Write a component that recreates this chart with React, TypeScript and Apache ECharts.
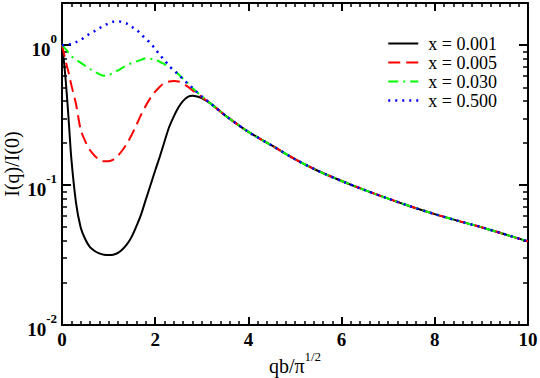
import React, { useEffect, useRef } from "react";
import * as echarts from "echarts";

// q b / pi^(1/2) sample points where the four curves differ
const qHead = [
  0, 0.05, 0.1, 0.15, 0.2, 0.3, 0.4, 0.5, 0.6, 0.7, 0.8, 0.9, 1.0, 1.1, 1.2, 1.3,
  1.4, 1.5, 1.6, 1.7, 1.8, 1.9, 2.0, 2.1, 2.2, 2.3, 2.4, 2.5, 2.6, 2.7, 2.8, 2.9, 3.0,
];
// common tail (all four curves coincide)
const qTail = [3.2, 3.5, 4.0, 4.5, 5.0, 5.5, 6.0, 6.5, 7.0, 7.5, 8.0, 8.5, 9.0, 9.5, 10];
const tailValues = [
  0.38, 0.315, 0.24, 0.192, 0.153, 0.126, 0.107, 0.092, 0.08, 0.07, 0.062, 0.0555, 0.05,
  0.0445, 0.0396,
];

const x0001 = [
  1.0, 0.72, 0.46, 0.27, 0.155, 0.075, 0.05, 0.041, 0.036, 0.0338, 0.0325, 0.0318, 0.0316,
  0.0318, 0.0328, 0.0348, 0.038, 0.043, 0.051, 0.062, 0.079, 0.1, 0.127, 0.16, 0.205, 0.26,
  0.31, 0.36, 0.4, 0.427, 0.435, 0.43, 0.418,
];
const x0005 = [
  1.0, 0.85, 0.72, 0.62, 0.52, 0.38, 0.25, 0.205, 0.178, 0.162, 0.152, 0.148, 0.148, 0.152,
  0.162, 0.178, 0.2, 0.23, 0.27, 0.32, 0.37, 0.42, 0.465, 0.505, 0.535, 0.55, 0.555, 0.55,
  0.53, 0.505, 0.475, 0.45, 0.425,
];
const x0030 = [
  1.0, 0.96, 0.92, 0.875, 0.835, 0.785, 0.75, 0.71, 0.675, 0.645, 0.62, 0.603, 0.61, 0.635,
  0.66, 0.69, 0.72, 0.745, 0.765, 0.785, 0.805, 0.8, 0.785, 0.76, 0.73, 0.7, 0.665, 0.62,
  0.575, 0.535, 0.495, 0.46, 0.43,
];
const x0500 = [
  1.0, 1.0, 1.005, 1.01, 1.02, 1.05, 1.09, 1.15, 1.21, 1.26, 1.32, 1.38, 1.43, 1.47, 1.48,
  1.46, 1.42, 1.35, 1.29, 1.19, 1.11, 1.03, 0.94, 0.85, 0.78, 0.71, 0.66, 0.615, 0.57, 0.53,
  0.495, 0.46, 0.43,
];

const seriesNames = ["x = 0.001", "x = 0.005", "x = 0.030", "x = 0.500"];
const xTicks = [0, 2, 4, 6, 8, 10];
const yDecades = [-2, -1, 0];

const FONT = "'Liberation Serif', 'Times New Roman', serif";

function build(head: number[]) {
  return [
    ...qHead.map((q, i) => [q, head[i]]),
    ...qTail.map((q, i) => [q, tailValues[i]]),
  ];
}

export default function App() {
  const ref = useRef<HTMLDivElement>(null);
  useEffect(() => {
    if (!ref.current) return;
    const chart = echarts.init(ref.current, null, { renderer: "svg" });
    const yMin = 0.01;
    const yMax = 2;
    const logMax = Math.log10(yMax);
    const minorVals: number[] = [];
    yDecades.forEach((d) => {
      for (let k = 2; k <= 9; k++) {
        const v = d + Math.log10(k);
        if (v <= logMax) minorVals.push(v);
      }
    });
    const axisLineStyle = { color: "#000", width: 2 };
    const majorTick = { show: true, inside: true, length: 9, lineStyle: { color: "#000", width: 2 } };
    const minorTickY = { show: true, inside: true, length: 5, lineStyle: { color: "#000", width: 1.5 } };
    const yLabelRich = {
      b: { fontSize: 19, fontWeight: "bold", fontFamily: FONT, color: "#000", lineHeight: 27, verticalAlign: "bottom" },
      s: { fontSize: 13, fontWeight: "bold", fontFamily: FONT, color: "#000", verticalAlign: "top" },
    };
    const helperY = (position: "left" | "right", major: boolean, withLabel: boolean) => ({
      type: "value",
      position,
      min: -2,
      max: logMax,
      axisLine: { show: major, onZero: false, lineStyle: axisLineStyle },
      axisTick: major
        ? { ...majorTick, customValues: yDecades }
        : { ...minorTickY, customValues: minorVals },
      axisLabel: withLabel
        ? {
            show: true,
            customValues: yDecades,
            margin: 5,
            formatter: (v: number) => `{b|10}{s|${Math.round(v)}}`,
            rich: yLabelRich,
          }
        : { show: false },
      splitLine: { show: false },
      ...(withLabel
        ? {
            name: "I(q)/I(0)",
            nameLocation: "middle",
            nameRotate: 90,
            nameGap: 40,
            nameMoveOverlap: false,
            nameTextStyle: { fontSize: 20, fontFamily: FONT, color: "#000" },
          }
        : {}),
    });
    const xCommon = {
      type: "value",
      min: 0,
      max: 10,
      interval: 2,
      axisLine: { show: true, onZero: false, lineStyle: axisLineStyle },
      axisTick: { ...majorTick, length: 8 },
      minorTick: { show: true, splitNumber: 10, length: 4, lineStyle: { color: "#000", width: 1.5 } },
      splitLine: { show: false },
      minorSplitLine: { show: false },
    };
    const styles = [
      { color: "#000000", type: "solid" as any, width: 2 },
      { color: "#ff0000", type: [12, 6], width: 2 },
      { color: "#00ff00", type: [10, 5, 2, 5], width: 2 },
      { color: "#0000ff", type: [2, 5], width: 2.5 },
    ];
    const heads = [x0001, x0005, x0030, x0500];
    chart.setOption({
      animation: false,
      grid: { left: 62, right: 12, top: 3, bottom: 53, containLabel: false, outerBoundsMode: "none" },
      legend: {
        orient: "vertical",
        left: 387,
        top: 34,
        padding: 0,
        itemGap: 0,
        itemWidth: 30,
        itemHeight: 19,
        textStyle: { fontSize: 18, fontFamily: FONT, color: "#000", lineHeight: 19, padding: [0, 0, 0, 5] },
        data: seriesNames.map((n, i) => ({ name: n, itemStyle: { opacity: 0 }, lineStyle: styles[i] })),
      },
      xAxis: [
        {
          ...xCommon,
          position: "bottom",
          axisLabel: {
            show: true,
            margin: 5,
            fontSize: 19,
            fontWeight: "bold",
            fontFamily: FONT,
            color: "#000",
            customValues: xTicks,
          },
          name: "{a|qb/π}{s|1/2}",
          nameLocation: "middle",
          nameGap: 25,
          nameMoveOverlap: false,
          nameTextStyle: {
            rich: {
              a: { fontSize: 20, fontFamily: FONT, color: "#000", lineHeight: 26, verticalAlign: "bottom" },
              s: { fontSize: 13, fontFamily: FONT, color: "#000", verticalAlign: "top" },
            },
          },
        },
        { ...xCommon, position: "top", axisLabel: { show: false } },
      ],
      yAxis: [
        { type: "log", logBase: 10, min: yMin, max: yMax, show: false },
        helperY("left", true, true),
        helperY("right", true, false),
        helperY("left", false, false),
        helperY("right", false, false),
      ],
      series: seriesNames.map((name, i) => ({
        name,
        type: "line",
        xAxisIndex: 0,
        yAxisIndex: 0,
        data: build(heads[i]),
        smooth: 0.3,
        symbol: "none",
        showSymbol: false,
        lineStyle: styles[i],
        itemStyle: { color: styles[i].color },
      })),
    });
    return () => chart.dispose();
  }, []);
  return (
    <div
      ref={ref}
      style={{ position: "absolute", left: 0, top: 0, width: 540, height: 378, background: "#fff" }}
    />
  );
}
